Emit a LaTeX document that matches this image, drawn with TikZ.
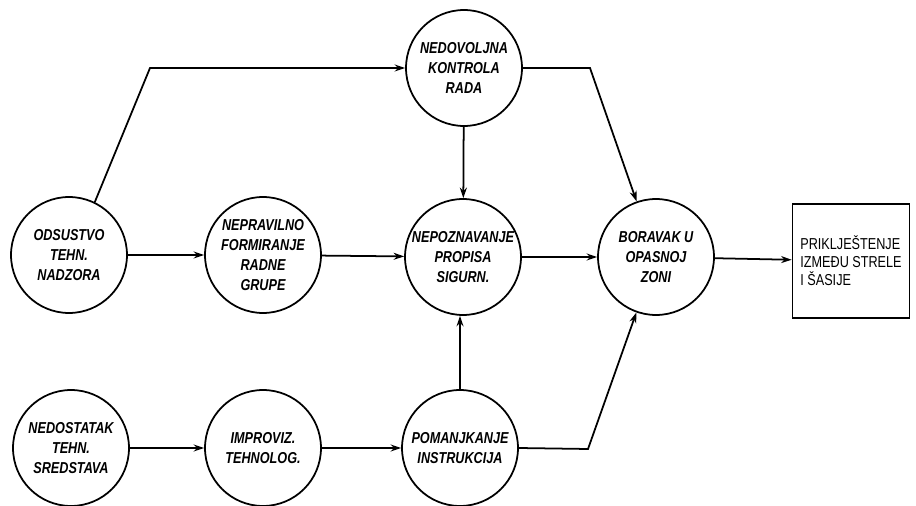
\documentclass[tikz,border=0pt]{standalone}
\usepackage{fontspec}
\setmainfont{Liberation Sans}
\newfontfamily\letterfont{Liberation Sans}[FakeStretch=0.8]
\usetikzlibrary{arrows.meta}

\begin{document}
\begin{tikzpicture}[x=0.02cm, y=-0.02cm,
    cause/.style={circle, draw, line width=1pt, minimum size=2.32cm, inner sep=0pt,
      align=center, font=\letterfont\fontsize{9}{11.3}\selectfont\bfseries\itshape},
    outcome/.style={rectangle, draw, line width=1pt, minimum width=2.34cm, minimum height=2.28cm,
      inner sep=2pt, align=left, font=\letterfont\fontsize{9}{10.3}\selectfont},
    flow/.style={line width=1pt, -{Stealth[length=6pt, width=4pt]}}]
  \useasboundingbox (0,0) rectangle (916,506);

  % top row
  \node[cause] (kontrola) at (464,68) {NEDOVOLJNA\\KONTROLA\\RADA};
  % middle row
  \node[cause] (nadzor) at (69,255) {ODSUSTVO\\TEHN.\\NADZORA};
  \node[cause] (grupa) at (263,255) {NEPRAVILNO\\FORMIRANJE\\RADNE\\GRUPE};
  \node[cause] (propisi) at (463,257) {NEPOZNAVANJE\\PROPISA\\SIGURN.};
  \node[cause] (boravak) at (656,257) {BORAVAK U\\OPASNOJ\\ZONI};
  \node[outcome] (ishod) at (851,261) {PRIKLJEŠTENJE\\IZMEĐU STRELE\\I ŠASIJE};
  % bottom row
  \node[cause] (sredstva) at (71,448) {NEDOSTATAK\\TEHN.\\SREDSTAVA};
  \node[cause] (improv) at (263,448) {IMPROVIZ.\\TEHNOLOG.};
  \node[cause] (upute) at (460,448) {POMANJKANJE\\INSTRUKCIJA};

  % bend points
  \coordinate (k1) at (150,68);
  \coordinate (k2) at (590,68);
  \coordinate (k3) at (588,449);

  \draw[flow] (nadzor.64) -- (k1) -- (kontrola);
  \draw[flow] (kontrola.east) -- (k2) -- (boravak);
  \draw[flow] (kontrola) -- (propisi);
  \draw[flow] (nadzor) -- (grupa);
  \draw[flow] (grupa) -- (propisi);
  \draw[flow] (propisi) -- (boravak);
  \draw[flow] (boravak) -- (ishod);
  \draw[flow] (sredstva) -- (improv);
  \draw[flow] (improv) -- (upute);
  \draw[flow] (upute.north) -- (upute.north |- propisi.south);
  \draw[flow] (upute.east) -- (k3) -- (boravak);
\end{tikzpicture}
\end{document}
